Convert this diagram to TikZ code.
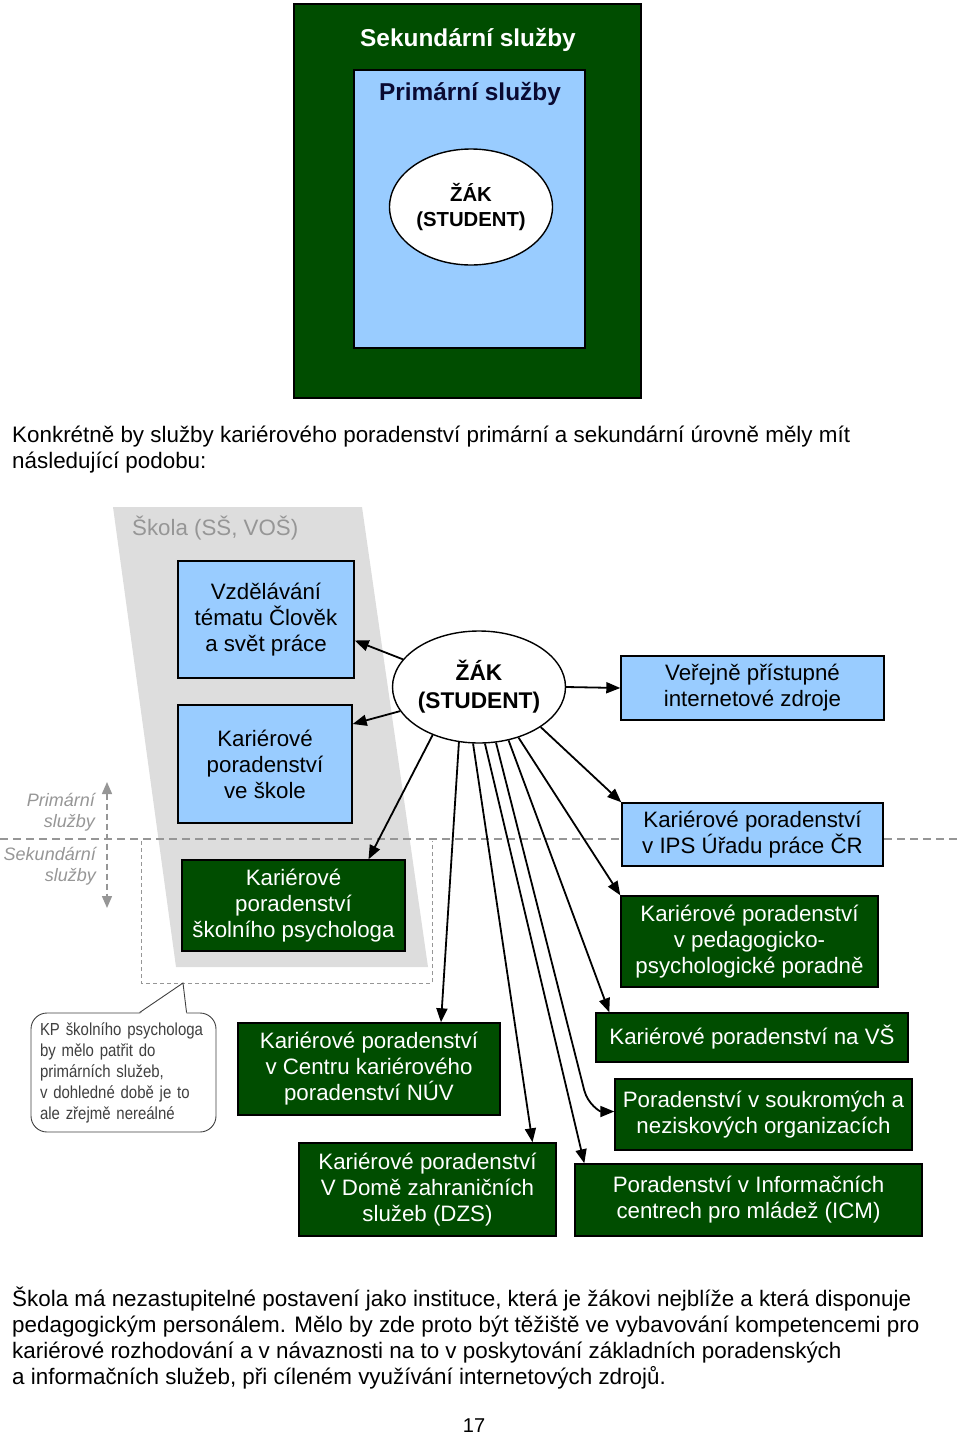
\documentclass[tikz,border=0pt]{standalone}
\usepackage{fontspec}
\setmainfont{Liberation Sans}
\newfontfamily\narrowfont[FakeStretch=0.86]{Liberation Sans}
\usetikzlibrary{shapes.geometric,arrows.meta,calc}
\definecolor{darkgreen}{RGB}{0,77,0}
\definecolor{lightblue}{RGB}{153,204,255}
\definecolor{zonegrey}{RGB}{221,221,221}
\definecolor{lineg}{RGB}{150,150,150}
\definecolor{navy}{RGB}{10,10,50}

\begin{document}
\begin{tikzpicture}[x=1pt,y=-1pt,
  box/.style={draw=black,line width=1.4pt,align=center,inner sep=0pt,font=\fontsize{22.3}{26}\selectfont},
  bluebox/.style={box,fill=lightblue,text=black},
  greenbox/.style={box,fill=darkgreen,text=white},
  zakell/.style={ellipse,draw=black,line width=1.4pt,fill=white,align=center,inner sep=0pt},
  bodytxt/.style={anchor=base west,inner sep=0pt,font=\fontsize{22.4}{26}\selectfont},
  sidetxt/.style={align=right,anchor=east,inner sep=0pt,text=lineg,font=\itshape\fontsize{18}{21}\selectfont},
  divider/.style={lineg,line width=1.5pt,dash pattern=on 8pt off 5pt},
  zonefrm/.style={lineg,line width=1pt,dash pattern=on 4pt off 3pt},
  arr/.style={line width=1.8pt,-{Triangle[length=14pt,width=11pt]}}]
\useasboundingbox (0,0) rectangle (960,1435);

\node[draw=black,line width=1.4pt,fill=darkgreen,minimum width=347pt,minimum height=394pt] (sek) at (467.5,201) {};
\node[text=white,font=\bfseries\fontsize{24.4}{28}\selectfont] (sektxt) at (468,40) {Sekundární služby};
\node[draw=black,line width=1.4pt,fill=lightblue,minimum width=231pt,minimum height=278pt] (prim) at (469.5,209) {};
\node[text=navy,font=\bfseries\fontsize{24.4}{28}\selectfont] (primtxt) at (470,94) {Primární služby};
\node[zakell,minimum width=163pt,minimum height=116pt,font=\bfseries\fontsize{20.3}{25}\selectfont] (zaktop) at (471,207) {ŽÁK\\(STUDENT)};

\node[bodytxt] (k1) at (12,442) {Konkrétně by služby kariérového poradenství primární a sekundární úrovně měly mít};
\node[bodytxt] (k2) at (12,468) {následující podobu:};

\fill[zonegrey] (113,507) -- (362,507) -- (428,967) -- (176,967) -- cycle;
\node[anchor=west,inner sep=0pt,text=lineg,font=\fontsize{22.3}{26}\selectfont] (skola) at (132,528) {Škola (SŠ, VOŠ)};
\draw[divider] (0,839) -- (960,839);
\draw[zonefrm] (141,841) -- (141,983) -- (432,983) -- (432,841);
\coordinate (zonetip) at (183,983);

\coordinate (uptip) at (107,782);
\coordinate (downtip) at (107,908);
\draw[lineg,line width=1.5pt,dash pattern=on 6pt off 4pt,{Triangle[length=12pt,width=10pt]}-{Triangle[length=12pt,width=10pt]}] (uptip) -- (downtip);
\node[sidetxt] (primlbl) at (95,812) {Primární\\služby};
\node[sidetxt] (seklbl) at (96,866) {Sekundární\\služby};

\node[bluebox,minimum width=176pt,minimum height=117pt] (vyuka) at (266,619.5) {Vzdělávání\\tématu Člověk\\a svět práce};
\node[bluebox,minimum width=174pt,minimum height=118pt] (kpskola) at (265,764) {Kariérové\\poradenství\\ve škole};
\node[greenbox,minimum width=223pt,minimum height=91pt] (psy) at (293.5,905.5) {Kariérové\\poradenství\\školního psychologa};
\node[zakell,minimum width=152pt,minimum height=112pt,font=\bfseries\fontsize{22.7}{28}\selectfont] (zak) at (479,687) {ŽÁK\\(STUDENT)};
\node[bluebox,minimum width=263pt,minimum height=64pt] (web) at (752.5,688) {Veřejně přístupné\\internetové zdroje};
\node[bluebox,minimum width=261pt,minimum height=63pt] (ips) at (752.5,834.5) {Kariérové poradenství\\v IPS Úřadu práce ČR};
\node[greenbox,minimum width=257pt,minimum height=91pt] (ppp) at (749.5,941.5) {Kariérové poradenství\\v pedagogicko-\\psychologické poradně};
\node[greenbox,minimum width=312pt,minimum height=49pt] (vs) at (752,1037.5) {Kariérové poradenství na VŠ};
\node[greenbox,minimum width=297pt,minimum height=71pt] (sou) at (763.5,1114.5) {Poradenství v soukromých a\\neziskových organizacích};
\node[greenbox,minimum width=347pt,minimum height=72pt] (icm) at (748.5,1200) {Poradenství v Informačních\\centrech pro mládež (ICM)};
\node[greenbox,minimum width=262pt,minimum height=92pt] (nuv) at (369,1069) {Kariérové poradenství\\v Centru kariérového\\poradenství NÚV};
\node[greenbox,minimum width=257pt,minimum height=93pt] (dzs) at (427.5,1189.5) {Kariérové poradenství\\V Domě zahraničních\\služeb (DZS)};

\node[draw=black!75,line width=0.9pt,fill=white,rounded corners=16pt,minimum width=185pt,minimum height=119pt,text width=167pt,align=left,inner sep=0pt,text=black!75,font=\narrowfont\fontsize{17.4}{21}\selectfont] (note) at (123.5,1072.5) {KP školního psychologa\\by mělo patřit do\\primárních služeb,\\v dohledné době je to\\ale zřejmě nereálné};
\fill[white] ($(note.north west)+(109,1.5)$) -- (zonetip) -- ($(note.north west)+(156,1.5)$) -- cycle;
\draw[black!75,line width=0.9pt] ($(note.north west)+(109,0)$) -- (zonetip) -- ($(note.north west)+(156,0)$);

\draw[arr] (zak.160) -- ($(vyuka.east)+(0,21)$);
\draw[arr] (zak.197) -- ($(kpskola.east)+(0,-40)$);
\draw[arr] (zak.226) -- ($(psy.north)+(75,0)$);
\draw[arr] (zak.east) -- (web.west);
\draw[arr] (zak.-33) -- (ips.north west);
\draw[arr] (zak.-52) -- (ppp.north west);
\draw[arr] (zak.-110) -- ($(nuv.north)+(72,0)$);
\draw[arr] (zak.-96) -- ($(dzs.north)+(105,0)$);
\draw[arr] (zak.-84) -- ($(icm.north west)+(10,0)$);
\draw[arr] (zak.-73) -- ($(sou.west)+(-30,-24)$) to[out=-75,in=180] ($(sou.west)+(0,-3)$);
\draw[arr] (zak.-61) -- ($(vs.north west)+(14,0)$);

\node[bodytxt] (p1) at (12,1306) {Škola má nezastupitelné postavení jako instituce, která je žákovi nejblíže a která disponuje};
\node[bodytxt] (p2) at (12,1332) {pedagogickým personálem. Mělo by zde proto být těžiště ve vybavování kompetencemi pro};
\node[bodytxt] (p3) at (12,1358) {kariérové rozhodování a v návaznosti na to v poskytování základních poradenských};
\node[bodytxt] (p4) at (12,1384) {a informačních služeb, při cíleném využívání internetových zdrojů.};
\node[anchor=base,inner sep=0pt,font=\fontsize{20}{24}\selectfont] (pg) at (474,1432) {17};
\end{tikzpicture}
\end{document}
